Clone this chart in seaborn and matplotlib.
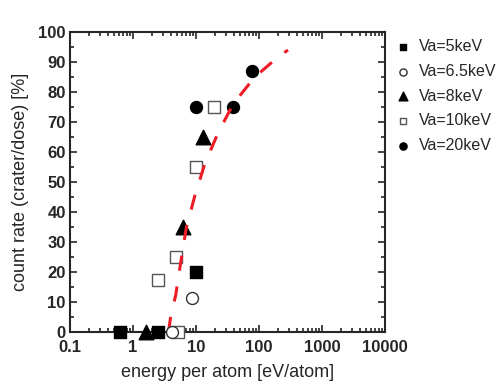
import pandas as pd
import matplotlib
matplotlib.use("Agg")
import matplotlib.pyplot as plt
import matplotlib.ticker as mticker
import seaborn as sns

# Data (energy in eV/atom, count rate in %)
va5_energy = [0.62, 2.47, 10.0]
va5_rate = [0, 0, 20]
va65_energy = [4.2, 8.5]
va65_rate = [0, 11.5]
va8_energy = [1.58, 6.3, 13.1]
va8_rate = [0, 35, 65]
va10_energy = [5.2, 2.47, 4.9, 9.9, 19.5]
va10_rate = [0, 17.5, 25, 55, 75]
va20_energy = [10.0, 39.0, 78.0]
va20_rate = [75, 75, 87]

# dashed guide curve, read point by point
fit_energy = [3.66, 3.94, 4.76, 5.72, 6.99, 9.57, 13.9, 22.3, 39.1, 85.5, 219, 289]
fit_rate = [0, 4.8, 12.3, 23.2, 34.6, 45.4, 56.3, 66.3, 76.1, 85, 92.4, 94]

sns.set_style("ticks")
plt.rcParams['font.family'] = ['Liberation Sans', 'DejaVu Sans']

fig = plt.figure(figsize=(5, 3.87), dpi=100)
ax = fig.add_axes([0.14, 0.142, 0.63, 0.775])

# label, x, y, marker, face, edge, size, zorder
series = [
    ("Va=5keV", va5_energy, va5_rate, "s", "black", "black", 70, 4),
    ("Va=6.5keV", va65_energy, va65_rate, "o", "white", "#333333", 74, 6),
    ("Va=8keV", va8_energy, va8_rate, "^", "black", "black", 110, 4),
    ("Va=10keV", va10_energy, va10_rate, "s", "white", "#555555", 63, 4),
    ("Va=20keV", va20_energy, va20_rate, "o", "black", "black", 74, 4),
]

fit_df = pd.DataFrame({"energy": fit_energy, "rate": fit_rate})
sns.lineplot(data=fit_df, x="energy", y="rate", ax=ax, color="#ee1c24",
             lw=2.2, linestyle=(0, (5, 5.2)), sort=True,
             estimator=None, zorder=5, legend=False)

for label, xs, ys, mk, fc, ec, size, z in series:
    df = pd.DataFrame({"energy": xs, "rate": ys})
    sns.scatterplot(data=df, x="energy", y="rate", ax=ax, marker=mk, s=size,
                    color=fc, edgecolor=ec, linewidth=1, label=label,
                    zorder=z, clip_on=False)

ax.set_xscale("log")
ax.set_xlim(0.1, 10000)
ax.set_ylim(0, 100)
ax.set_yticks(range(0, 101, 10))
ax.yaxis.set_minor_locator(mticker.MultipleLocator(5))
ax.xaxis.set_major_locator(mticker.LogLocator(base=10, numticks=10))
ax.xaxis.set_minor_locator(mticker.LogLocator(base=10, subs=range(2, 10), numticks=20))
ax.xaxis.set_major_formatter(mticker.FuncFormatter(lambda v, p: f"{v:g}"))
ax.xaxis.set_minor_formatter(mticker.NullFormatter())

ax.tick_params(which="both", direction="in", top=True, right=True, width=1.2,
               labelsize=12)
ax.tick_params(which="major", length=5)
ax.tick_params(which="minor", length=3)
ax.tick_params(axis="x", pad=6)
ax.tick_params(axis="y", pad=3)
for lbl in ax.get_xticklabels() + ax.get_yticklabels():
    lbl.set_fontweight("bold")
for sp in ax.spines.values():
    sp.set_linewidth(1.5)

ax.set_xlabel("energy per atom [eV/atom]", fontsize=13, labelpad=6)
ax.set_ylabel("count rate (crater/dose) [%]", fontsize=13, labelpad=7)

ax.legend(loc="upper left", bbox_to_anchor=(0.79, 0.898),
          bbox_transform=fig.transFigure, frameon=False, borderpad=0,
          borderaxespad=0, fontsize=11.5, markerscale=0.6, handletextpad=0.5,
          labelspacing=0.6, handlelength=1.0)

fig.savefig("out.png", dpi=100)
